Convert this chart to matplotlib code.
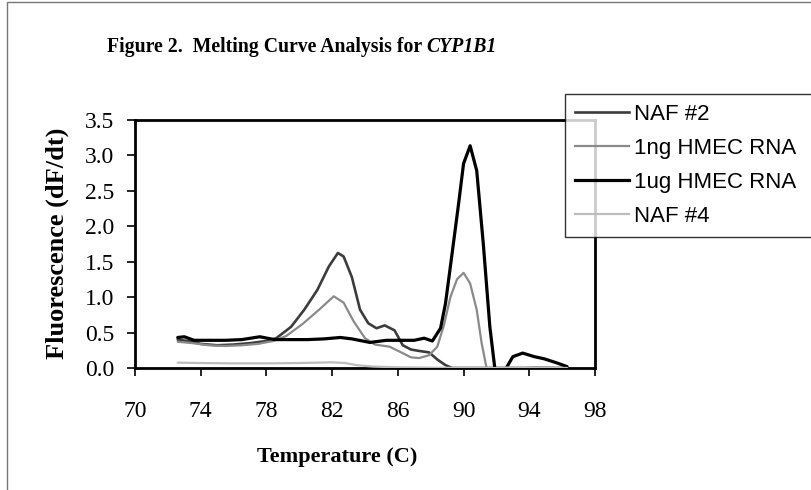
import matplotlib
matplotlib.use("Agg")
import matplotlib.pyplot as plt
from matplotlib.patches import Rectangle
from matplotlib.lines import Line2D

# ---- data ----
series_names = ["NAF #2", "1ng HMEC RNA", "1ug HMEC RNA", "NAF #4"]

temp_naf2 = [72.6, 73.2, 74.0, 75.0, 76.0, 77.0, 78.0, 78.6, 79.5, 80.3, 81.1, 81.8, 82.35, 82.7,
             83.2, 83.7, 84.2, 84.7, 85.2, 85.8, 86.3, 86.8, 87.3, 87.9, 88.4, 88.9, 89.3, 90.0,
             92.0, 94.0, 96.3]
val_naf2 = [0.40, 0.38, 0.34, 0.32, 0.33, 0.35, 0.38, 0.42, 0.58, 0.82, 1.10, 1.43, 1.62, 1.57,
            1.28, 0.82, 0.63, 0.56, 0.60, 0.53, 0.32, 0.26, 0.24, 0.22, 0.12, 0.04, 0.0, 0.0,
            0.0, 0.0, 0.0]

temp_1ng = [72.6, 73.5, 74.5, 75.5, 76.5, 77.5, 78.4, 79.2, 80.2, 81.2, 82.1, 82.7, 83.3, 84.0,
            84.6, 85.5, 86.2, 86.8, 87.3, 87.9, 88.4, 88.8, 89.2, 89.6, 90.0, 90.4, 90.8, 91.1,
            91.4, 92.0, 94.0, 96.3]
val_1ng = [0.37, 0.35, 0.32, 0.31, 0.32, 0.34, 0.38, 0.45, 0.62, 0.82, 1.01, 0.92, 0.66, 0.42,
           0.33, 0.30, 0.22, 0.15, 0.14, 0.18, 0.30, 0.60, 1.00, 1.25, 1.34, 1.19, 0.82, 0.35,
           0.0, 0.0, 0.01, 0.0]

temp_1ug = [72.6, 73.0, 73.6, 74.5, 75.5, 76.5, 77.6, 78.5, 79.5, 80.5, 81.5, 82.5, 83.2, 84.3,
            85.3, 86.2, 87.0, 87.6, 88.1, 88.6, 88.9, 89.3, 89.7, 90.0, 90.4, 90.8, 91.2, 91.6,
            91.9, 92.2, 92.6, 93.0, 93.6, 94.3, 94.9, 95.7, 96.3]
val_1ug = [0.43, 0.44, 0.39, 0.39, 0.39, 0.40, 0.44, 0.40, 0.40, 0.40, 0.41, 0.43, 0.41, 0.36,
           0.39, 0.39, 0.39, 0.42, 0.38, 0.56, 0.91, 1.61, 2.32, 2.88, 3.13, 2.78, 1.75, 0.58,
           0.0, -0.15, 0.0, 0.16, 0.21, 0.16, 0.13, 0.07, 0.02]

temp_naf4 = [72.6, 74.0, 76.0, 78.0, 80.0, 82.0, 82.8, 83.5, 84.5, 86.0, 88.0, 90.0, 92.0, 93.5,
             94.5, 96.3]
val_naf4 = [0.075, 0.07, 0.065, 0.065, 0.07, 0.08, 0.07, 0.04, 0.02, 0.01, 0.005, 0.0, 0.0, 0.015,
            0.0, 0.0]

x_ticks = [70, 74, 78, 82, 86, 90, 94, 98]
y_ticks = [0.0, 0.5, 1.0, 1.5, 2.0, 2.5, 3.0, 3.5]

title_plain = "Figure 2.  Melting Curve Analysis for "
title_italic = "CYP1B1"

# ---- figure ----
W, H = 811, 490
fig = plt.figure(figsize=(W / 100, H / 100), dpi=100)
fig.patch.set_facecolor("white")

# outer thin frame
fig.add_artist(Rectangle((7 / W, -0.1), 1.2, (1 - 2 / H) + 0.1, transform=fig.transFigure,
                         fill=False, edgecolor="#777777", linewidth=1.0))

ax = fig.add_axes([135 / W, 1 - 368 / H, (595 - 135) / W, (368 - 119.5) / H])

serif = ["Liberation Serif", "DejaVu Serif"]
sans = ["Liberation Sans", "DejaVu Sans"]

styles = [
    dict(color="#3c3c3c", lw=1.9),
    dict(color="#8a8a8a", lw=1.6),
    dict(color="#000000", lw=2.3),
    dict(color="#bdbdbd", lw=1.6),
]
data = [(temp_naf2, val_naf2), (temp_1ng, val_1ng), (temp_1ug, val_1ug), (temp_naf4, val_naf4)]
order = [3, 1, 0, 2]
for i in order:
    t, v = data[i]
    ax.plot(t, v, solid_joinstyle="round", solid_capstyle="round", zorder=3 + i * 0.1, **styles[i])

ax.set_xlim(70, 98)
ax.set_ylim(0, 3.5)
ax.set_xticks(x_ticks)
ax.set_yticks(y_ticks)
ax.set_xticklabels([str(x) for x in x_ticks], fontfamily=serif, fontsize=17)
ax.set_yticklabels([f"{y:.1f}" for y in y_ticks], fontfamily=serif, fontsize=17)
ax.tick_params(axis="both", direction="out", length=6, width=1.2, color="black")
ax.tick_params(axis="x", pad=18)
ax.tick_params(axis="y", pad=9)
for s in ax.spines.values():
    s.set_linewidth(2.0)
    s.set_color("black")

ax.set_xlabel("Temperature (C)", fontfamily=serif, fontsize=16, fontweight="bold")
ax.xaxis.set_label_coords((337 - 135) / 460, -(447 - 368) / 248.5)
ax.set_ylabel("Fluorescence (dF/dt)", fontfamily=serif, fontsize=19, fontweight="bold")
ax.yaxis.set_label_coords(-(135 - 69) / 460, 0.5)

t1 = fig.text(107 / W, 1 - 47 / H, title_plain, fontfamily=serif, fontsize=14.2,
              fontweight="bold", ha="left", va="center")
fig.canvas.draw()
bb = t1.get_window_extent(renderer=fig.canvas.get_renderer())
fig.text(bb.x1 / W, 1 - 47 / H, title_italic, fontfamily=serif, fontsize=14.2,
         fontweight="bold", fontstyle="italic", ha="left", va="center")

handles = [Line2D([0], [0], **styles[i]) for i in range(4)]
leg = fig.legend(handles, series_names, loc="upper left", mode="expand",
                 bbox_to_anchor=(565 / W, 1 - 228 / H, 270 / W, 134 / H),
                 bbox_transform=fig.transFigure,
                 prop={"family": sans, "size": 16}, frameon=True, fancybox=False,
                 handlelength=2.45, handletextpad=0.2, labelspacing=0.58,
                 borderpad=0.45, borderaxespad=0)
leg.get_frame().set_edgecolor("black")
leg.get_frame().set_linewidth(1.0)

fig.savefig("out.png", dpi=100, facecolor="white")
